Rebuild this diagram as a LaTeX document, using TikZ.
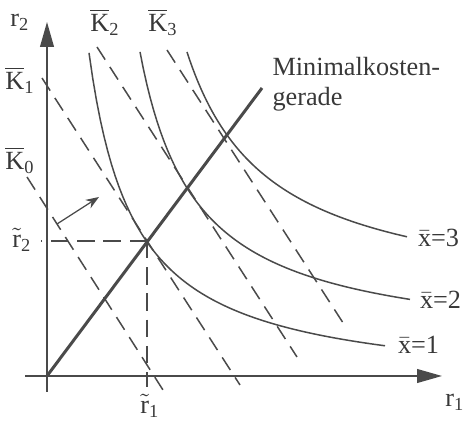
\documentclass[tikz,border=0pt]{standalone}
\usepackage{amsmath}
\usepackage{fontspec}
\setmainfont{Liberation Serif}
\usepackage{tikz}
\usetikzlibrary{arrows.meta}
\definecolor{inkgray}{HTML}{383838}
\definecolor{linegray}{HTML}{4A4A4A}
\tikzset{every node/.append style={font=\fontsize{10.5}{12}\selectfont,text=inkgray}}

\begin{document}
\begin{tikzpicture}[x=4pt,y=4pt,>=Stealth,
  isocost/.style={linegray,line width=.6pt,dash pattern=on 6pt off 3.5pt},
  isoquant/.style={linegray,line width=.6pt,samples=80},
  axis/.style={linegray,line width=.7pt,-{Triangle[length=10pt,width=5.5pt]}}]
\useasboundingbox (-4.7,-4.5) rectangle (42.9,37.6);
% axes
\coordinate (O) at (0,0);
\draw[axis] (-2.2,0)--(39.5,0);
\draw[axis] (0,-1.6)--(0,35.4);
\node (r1) at (40.8,-2.6) {r$_{\text{1}}$};
\node (r2) at (-2.7,35.4) {r$_{\text{2}}$};
% isocost lines
\draw[isocost] (-2.0,19.9)--(11.6,-1.4);
\draw[isocost] (-0.5,29.8)--(19.3,-0.9);
\draw[isocost] (5.0,32.9)--(25.0,1.9);
\draw[isocost] (12.0,32.6)--(30.0,4.7);
\node (K0) at (-2.7,21.6) {$\overline{\text{K}}_{\text{0}}$};
\node (K1) at (-2.7,29.6) {$\overline{\text{K}}_{\text{1}}$};
\node (K2) at (5.8,35.4) {$\overline{\text{K}}_{\text{2}}$};
\node (K3) at (11.6,35.4) {$\overline{\text{K}}_{\text{3}}$};
\draw[->,linegray,line width=.5pt] (1.0,15.2)--(5.2,17.9);
% isoquants
\draw[isoquant,domain=4.2:33.8] plot (\x,{-1.5+154.54/(\x+0.37)});
\draw[isoquant,domain=9.3:36.3] plot (\x,{2.5+168.38/(\x-3.67)});
\draw[isoquant,domain=14:36] plot (\x,{7+209.3/(\x-5.76)});
\node[anchor=west,inner sep=1pt] (x1) at (34.8,3.1) {$\bar{\text{x}}$=1};
\node[anchor=west,inner sep=1pt] (x2) at (37.0,7.6) {$\bar{\text{x}}$=2};
\node[anchor=west,inner sep=1pt] (x3) at (36.8,13.8) {$\bar{\text{x}}$=3};
% minimal cost line and optimum
\coordinate (T) at (10,13.5);
\coordinate (M) at (21.5,28.8);
\draw[linegray,line width=1.2pt] (O)--(M);
\node[anchor=north west,align=left,inner sep=0pt] (mk) at (22.5,31.9) {Minimalkosten-\\gerade};
\draw[isocost,dash pattern=on 7pt off 3.5pt] (T)--(-0.6,13.5);
\draw[isocost,dash pattern=on 7pt off 3.5pt] (T)--(10,-1.1);
\node (rt2) at (-2.5,13.6) {$\tilde{\text{r}}_{\text{2}}$};
\node (rt1) at (10.3,-3.0) {$\tilde{\text{r}}_{\text{1}}$};
\end{tikzpicture}
\end{document}
